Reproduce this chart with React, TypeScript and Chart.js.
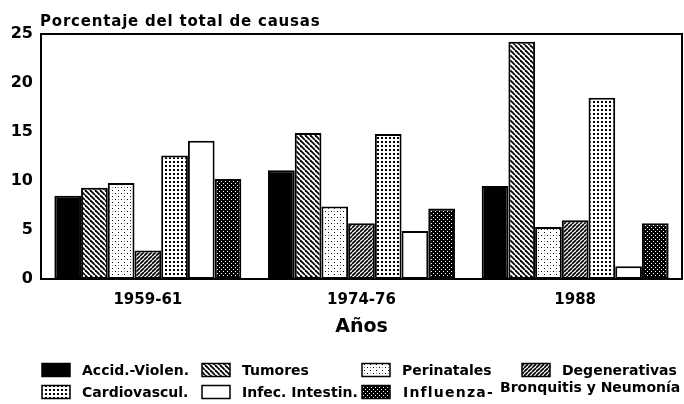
import React, { useEffect, useRef } from "react";
import { Chart, registerables } from "chart.js";

Chart.register(...registerables);

const categories = ["1959-61", "1974-76", "1988"];
const accidViolen = [8.5, 11.1, 9.5];
const tumores = [9.3, 14.9, 24.2];
const perinatales = [9.8, 7.4, 5.3];
const degenerativas = [2.9, 5.7, 6.0];
const cardiovascul = [12.6, 14.8, 18.5];
const infecIntestin = [14.1, 4.9, 1.3];
const influenza = [10.2, 7.2, 5.7];

const seriesLabels = [
  "Accid.-Violen.",
  "Tumores",
  "Perinatales",
  "Degenerativas",
  "Cardiovascul.",
  "Infec. Intestin.",
  "Influenza-Bronquitis y Neumonía",
];
const yTicks = [0, 5, 10, 15, 20, 25];
const yTitle = "Porcentaje del total de causas";
const xTitle = "Años";

const FONT = "'DejaVu Sans', sans-serif";

function makeTile(w: number, h: number, draw: (c: CanvasRenderingContext2D) => void) {
  const cv = document.createElement("canvas");
  cv.width = w;
  cv.height = h;
  const c = cv.getContext("2d")!;
  c.fillStyle = "#fff";
  c.fillRect(0, 0, w, h);
  draw(c);
  const ctx = document.createElement("canvas").getContext("2d")!;
  return ctx.createPattern(cv, "repeat")!;
}

function makePatterns() {
  const back = makeTile(5, 5, (c) => {
    c.strokeStyle = "#000";
    c.lineWidth = 1.8;
    for (let k = -1; k <= 1; k++) {
      c.beginPath();
      c.moveTo(k * 5, 0);
      c.lineTo(k * 5 + 5, 5);
      c.stroke();
    }
  });
  const dots = makeTile(6, 6, (c) => {
    c.fillStyle = "#000";
    c.fillRect(1, 1, 1, 1);
    c.fillRect(4, 4, 1, 1);
    c.fillStyle = "#888";
    c.fillRect(4, 1, 1, 1);
  });
  const fwd = makeTile(4, 4, (c) => {
    c.strokeStyle = "#000";
    c.lineWidth = 1.7;
    for (let k = -1; k <= 1; k++) {
      c.beginPath();
      c.moveTo(k * 4, 4);
      c.lineTo(k * 4 + 4, 0);
      c.stroke();
    }
  });
  const grid = makeTile(4, 4, (c) => {
    c.fillStyle = "#000";
    c.fillRect(1, 1, 2, 2);
  });
  const dense = makeTile(4, 4, (c) => {
    c.fillStyle = "#000";
    c.fillRect(0, 0, 4, 4);
    c.fillStyle = "#fff";
    c.fillRect(1, 1, 1, 1);
    c.fillRect(3, 3, 1, 1);
  });
  return ["#000", back, dots, fwd, grid, "#fff", dense];
}

export default function App() {
  const ref = useRef<HTMLCanvasElement | null>(null);

  useEffect(() => {
    const fills = makePatterns();
    const values = [accidViolen, tumores, perinatales, degenerativas, cardiovascul, infecIntestin, influenza];

    const decor = {
      id: "decor",
      afterDraw(chart: any) {
        const { ctx, chartArea } = chart;
        ctx.save();
        // frame
        ctx.strokeStyle = "#000";
        ctx.lineWidth = 2;
        ctx.strokeRect(chartArea.left, chartArea.top, chartArea.right - chartArea.left, chartArea.bottom - chartArea.top);
        // title
        ctx.fillStyle = "#000";
        ctx.font = `bold 15px ${FONT}`;
        (ctx as any).letterSpacing = "0.8px";
        ctx.textAlign = "left";
        ctx.textBaseline = "alphabetic";
        ctx.fillText(yTitle, chartArea.left - 1, chartArea.top - 8);
        (ctx as any).letterSpacing = "0px";
        // legend
        const cols = [42, 202, 362, 522];
        const rows = [370, 392];
        ctx.font = `bold 14px ${FONT}`;
        ctx.textBaseline = "middle";
        seriesLabels.forEach((lab, i) => {
          const x = cols[i % 4];
          const y = rows[Math.floor(i / 4)];
          ctx.fillStyle = fills[i] as any;
          ctx.fillRect(x, y - 6.5, 28, 13);
          ctx.strokeStyle = "#000";
          ctx.lineWidth = 1.5;
          ctx.strokeRect(x, y - 6.5, 28, 13);
          ctx.fillStyle = "#000";
          const dash = lab.indexOf("-Bronquitis");
          if (dash >= 0) {
            const a = lab.slice(0, dash + 1);
            const b = lab.slice(dash + 1);
            (ctx as any).letterSpacing = "1.2px";
            ctx.fillText(a, x + 41, y + 1);
            (ctx as any).letterSpacing = "0px";
            ctx.fillText(b, x + 138, y - 4);
          } else {
            ctx.fillText(lab, x + 40, y + 1);
          }
        });
        ctx.restore();
      },
    };

    const chart = new Chart(ref.current!, {
      type: "bar",
      data: {
        labels: categories,
        datasets: seriesLabels.map((lab, i) => ({
          label: lab,
          data: values[i],
          backgroundColor: fills[i] as any,
          borderColor: "#000",
          borderWidth: 2,
          borderSkipped: false,
          categoryPercentage: 0.875,
          barPercentage: 1,
        })),
      },
      options: {
        animation: false,
        responsive: false,
        maintainAspectRatio: false,
        events: [],
        layout: { padding: { top: 34, right: 2, left: 0, bottom: 60 } },
        plugins: { legend: { display: false }, title: { display: false }, tooltip: { enabled: false } },
        scales: {
          x: {
            grid: { display: false, drawTicks: false },
            border: { display: false },
            ticks: { color: "#000", font: { family: FONT, size: 15, weight: "bold" }, padding: 12 },
            title: {
              display: true,
              text: xTitle,
              color: "#000",
              font: { family: FONT, size: 19, weight: "bold" },
              padding: { top: 0, bottom: 6 },
            },
            afterFit: (s: any) => {
              s.height = 65;
            },
          },
          y: {
            min: 0,
            max: 25,
            grid: { display: false, drawTicks: false },
            border: { display: false },
            afterBuildTicks: (s: any) => {
              s.ticks = yTicks.map((v) => ({ value: v }));
            },
            ticks: { color: "#000", font: { family: FONT, size: 16, weight: "bold" }, padding: 8 },
            afterFit: (s: any) => {
              s.width = 41;
            },
          },
        },
      },
      plugins: [decor],
    });
    return () => chart.destroy();
  }, []);

  return (
    <div style={{ position: "absolute", left: 0, top: 0, width: 684, height: 404, background: "#fff" }}>
      <canvas ref={ref} width={684} height={404} />
    </div>
  );
}
